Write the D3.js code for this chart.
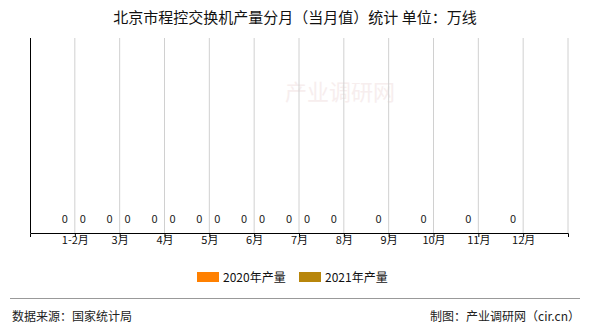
<!DOCTYPE html>
<html><head><meta charset="utf-8">
<script src="https://cdn.jsdelivr.net/npm/d3@7"></script>
<style>body{margin:0;background:#fff;}svg{display:block;font-family:"Noto Sans CJK SC","Noto Sans",sans-serif;}</style>
</head><body>
<svg id="c" width="590" height="330"></svg>
<script>
const categories = ["1-2月","3月","4月","5月","6月","7月","8月","9月","10月","11月","12月"];
const values2020 = [0,0,0,0,0,0,0,0,0,0,0];
const values2021 = [0,0,0,0,0,0,null,null,null,null,null];
const seriesNames = ["2020年产量","2021年产量"];
const colors = ["#FF8000","#B8860B"];

(function(){
const svg = d3.select("#c");
const pL = 30, pR = 568, pT = 38, pB = 233;
const x = d3.scalePoint().domain(categories).range([pL, pR]).padding(1);
const y = d3.scaleLinear().domain([0, 1]).range([pB, pT]);

svg.append("text").attr("x", 295).attr("y", 23).attr("text-anchor","middle")
  .attr("font-size", 15).attr("fill","#111").text("北京市程控交换机产量分月（当月值）统计  单位：万线");

// watermark
svg.append("text").attr("x", 340).attr("y", 100).attr("text-anchor","middle")
  .attr("font-size", 22).attr("fill","#f7eeee").text("产业调研网");

// gridlines
const gx = categories.map(c => x(c)).concat([pR]);
svg.selectAll("line.grid").data(gx).enter().append("line")
  .attr("x1", d=>d).attr("x2", d=>d).attr("y1", pT).attr("y2", pB)
  .attr("stroke","#d0d0d0").attr("stroke-width",1);

// bars (zero height)
const off = [-10, 8];
[values2020, values2021].forEach((vals, si) => {
  const g = svg.append("g");
  vals.forEach((v, i) => {
    if (v === null) return;
    const cx = x(categories[i]) + off[si];
    g.append("rect").attr("x", cx - 4).attr("width", 8)
      .attr("y", y(v)).attr("height", pB - y(v)).attr("fill", colors[si]);
    g.append("text").attr("x", cx).attr("y", 223).attr("text-anchor","middle")
      .attr("font-size", 11).attr("fill","#222").text(v);
  });
});

// x axis
const xa = svg.append("g").attr("transform", `translate(0,${pB})`)
  .call(d3.axisBottom(x).tickSize(4).tickSizeOuter(4));
xa.select(".domain").attr("stroke","#000");
xa.selectAll(".tick line").attr("stroke","#000");
xa.selectAll("text").attr("font-size", 11).attr("fill","#111").attr("y", 3).attr("dy","0.71em")
  .attr("font-family","\"Noto Sans CJK SC\",sans-serif");
// y axis line
svg.append("line").attr("x1", pL+0.5).attr("x2", pL+0.5).attr("y1", pT).attr("y2", pB)
  .attr("stroke","#000");

// legend
const lg = [{x:197, tx:223},{x:299, tx:325}];
seriesNames.forEach((n,i)=>{
  svg.append("rect").attr("x", lg[i].x).attr("y", 272).attr("width", 22).attr("height", 10).attr("fill", colors[i]);
  svg.append("text").attr("x", lg[i].tx).attr("y", 282).attr("font-size", 12).attr("fill","#111").text(n);
});

// footer
svg.append("line").attr("x1",10).attr("x2",580).attr("y1",298.5).attr("y2",298.5).attr("stroke","#999");
svg.append("text").attr("x",12).attr("y",321).attr("font-size",12).attr("fill","#222").text("数据来源：国家统计局");
svg.append("text").attr("x",580).attr("y",321).attr("text-anchor","end").attr("font-size",12).attr("fill","#222").text("制图：产业调研网（cir.cn）");
})();
</script>
</body></html>
